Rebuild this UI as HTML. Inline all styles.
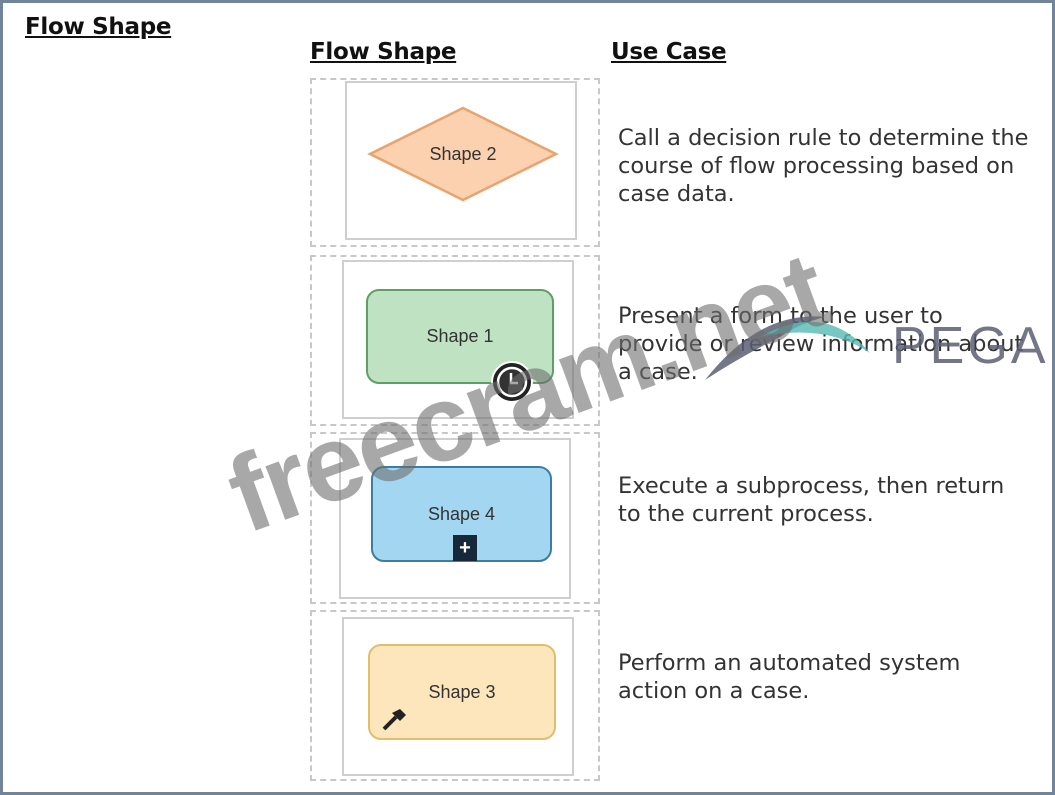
<!DOCTYPE html>
<html><head><style>
html,body{margin:0;padding:0}
body{width:1055px;height:795px;position:relative;background:#fff;overflow:hidden;font-family:"DejaVu Sans","Liberation Sans",sans-serif}
.frame{position:absolute;left:0;top:0;width:1049px;height:789px;border:3px solid #72849a}
.h{position:absolute;font-weight:bold;font-size:23px;text-decoration:underline;color:#111;font-family:"DejaVu Sans",sans-serif;letter-spacing:-0.3px}
.dash{position:absolute;left:310px;width:290px;border:2px dashed #c8c8c8;box-sizing:border-box}
.box{position:absolute;border:2px solid #cfcfcf;box-sizing:border-box;background:#fff}
.r{position:absolute;box-sizing:border-box;border-radius:13px;display:flex;align-items:center;justify-content:center;font-family:"Liberation Sans",sans-serif;font-size:18px;color:#333}
.t{position:absolute;left:618px;font-size:22.5px;line-height:28px;color:#333;white-space:nowrap}
.wm{position:absolute;left:212px;top:440px;font-family:"Liberation Sans",sans-serif;font-weight:bold;font-size:108px;color:rgba(110,110,110,0.6);transform:rotate(-20deg);transform-origin:0 0;white-space:nowrap;letter-spacing:-2px}
</style></head><body>
<div class="frame"></div>
<div class="h" style="left:25px;top:14px">Flow Shape</div>
<div class="h" style="left:310px;top:39px">Flow Shape</div>
<div class="h" style="left:611px;top:39px">Use Case</div>

<div class="dash" style="top:78px;height:169px"></div>
<div class="dash" style="top:255px;height:171px"></div>
<div class="dash" style="top:432px;height:172px"></div>
<div class="dash" style="top:610px;height:171px"></div>

<div class="box" style="left:345px;top:81px;width:232px;height:159px"></div>
<div class="box" style="left:342px;top:260px;width:232px;height:159px"></div>
<div class="box" style="left:339px;top:438px;width:232px;height:161px"></div>
<div class="box" style="left:342px;top:617px;width:232px;height:159px"></div>

<svg style="position:absolute;left:0;top:0" width="1055" height="795">
<polygon points="463,108 556,154 463,200 370,154" fill="#fbd1b0" stroke="#e9a36e" stroke-width="2.5"/>
<text x="463" y="160" font-family="Liberation Sans" font-size="18" fill="#333" text-anchor="middle">Shape 2</text>
</svg>

<div class="r" style="left:366px;top:289px;width:188px;height:95px;background:#bfe3c2;border:2.5px solid #5f9e67">Shape 1</div>
<svg style="position:absolute;left:490px;top:360px" width="44" height="44"><circle cx="22" cy="22" r="20" fill="#222" stroke="#fff" stroke-width="2"/><circle cx="22" cy="22" r="14" fill="#333" stroke="#fff" stroke-width="2.5"/><path d="M21 13 V23 H28" stroke="#fff" stroke-width="2.5" fill="none"/></svg>

<div class="r" style="left:371px;top:466px;width:181px;height:96px;background:#a3d6f1;border:2.5px solid #3b7e9d">Shape 4</div>
<div style="position:absolute;left:453px;top:535px;width:24px;height:26px;background:#17283a;color:#fff;font:bold 20px 'Liberation Sans',sans-serif;text-align:center;line-height:26px">+</div>

<div class="r" style="left:368px;top:644px;width:188px;height:96px;background:#fde6bb;border:2.5px solid #e0bf6a">Shape 3</div>
<svg style="position:absolute;left:380px;top:705px" width="30" height="30"><path d="M4 24 L16 12" stroke="#222" stroke-width="4"/><path d="M12 8 L20 4 L26 10 L20 16 Z" fill="#222"/></svg>

<div class="t" style="top:124px">Call a decision rule to determine the<br>course of flow processing based on<br>case data.</div>
<div class="t" style="top:302px">Present a form to the user to<br>provide or review information about<br>a case.</div>
<div class="t" style="top:472px">Execute a subprocess, then return<br>to the current process.</div>
<div class="t" style="top:649px">Perform an automated system<br>action on a case.</div>

<svg style="position:absolute;left:700px;top:295px" width="355" height="95">
<path d="M5 85 Q60 15 125 22 Q100 28 80 42 Q40 62 5 85Z" fill="#5b5f73" opacity="0.85"/>
<path d="M60 42 Q125 5 170 58 Q125 28 60 42Z" fill="#55b9b3" opacity="0.8"/>
<text x="192" y="68" font-family="Liberation Sans" font-size="52" fill="#5b5f73" opacity="0.85" letter-spacing="3">PEGA</text>
</svg>
<div class="wm">freecram.net</div>
</body></html>
